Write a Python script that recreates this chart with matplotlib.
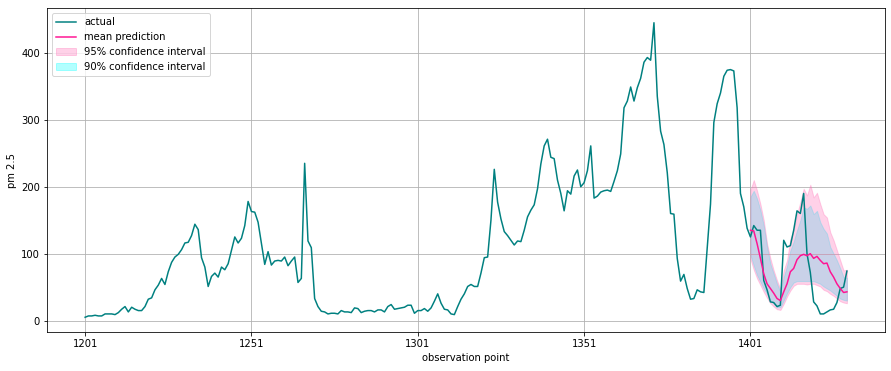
import numpy as np
import matplotlib
matplotlib.use("Agg")
import matplotlib.pyplot as plt

start = 1201
actual = [
    5, 7, 7, 8, 7, 7, 10, 10, 10, 9,
    12, 17, 21, 13, 20, 17, 15, 15, 21, 32,
    34, 46, 53, 63, 54, 73, 87, 95, 99, 106,
    116, 117, 127, 144, 136, 94, 80, 51, 66, 71,
    65, 80, 76, 85, 105, 125, 116, 123, 142, 178,
    163, 162, 147, 115, 84, 103, 83, 89, 90, 89,
    95, 82, 89, 95, 57, 63, 235, 119, 109, 33,
    21, 14, 13, 10, 11, 11, 10, 15, 13, 13,
    12, 19, 18, 12, 14, 15, 15, 13, 16, 16,
    13, 21, 24, 17, 18, 19, 20, 23, 23, 11,
    15, 15, 18, 14, 19, 29, 40, 26, 17, 16,
    10, 9, 21, 32, 40, 51, 54, 51, 51, 71,
    94, 95, 150, 226, 177, 152, 133, 127, 120, 113,
    119, 118, 135, 155, 165, 173, 197, 234, 261, 271,
    244, 242, 210, 190, 164, 194, 189, 216, 225, 200,
    206, 224, 261, 183, 186, 192, 194, 195, 193, 208,
    224, 249, 318, 328, 349, 328, 348, 362, 386, 393,
    389, 445, 335, 283, 263, 221, 160, 159, 93, 59,
    69, 48, 32, 33, 46, 43, 42, 107, 174, 296,
    324, 340, 365, 374, 375, 373, 318, 190, 170, 138,
    125, 142, 135, 135, 60, 46, 28, 27, 21, 23,
    120, 110, 112, 135, 164, 160, 190, 100, 72, 28,
    22, 10, 10, 13, 16, 17, 27, 48, 50, 74,
]
x_actual = np.arange(start, start + len(actual))

pred_start = 1401
mean_pred = [135, 134, 115, 93, 70, 55, 48, 41, 33, 30,
             43, 55, 73, 78, 91, 97, 99, 97, 100, 93,
             96, 90, 85, 86, 73, 65, 55, 48, 42, 43]
upper95 = [195, 210, 194, 174, 150, 115, 93, 75, 60, 47,
           75, 90, 122, 135, 159, 177, 197, 187, 203, 184,
           191, 174, 159, 154, 132, 120, 105, 90, 75, 76]
lower95 = [92, 76, 63, 53, 43, 34, 26, 21, 17, 16,
           25, 36, 45, 52, 55, 55, 55, 54, 55, 55,
           53, 51, 46, 44, 40, 37, 33, 29, 27, 26]
upper90 = [185, 194, 182, 165, 142, 110, 85, 70, 55, 43,
           65, 82, 105, 118, 135, 150, 169, 167, 172, 159,
           164, 147, 137, 130, 110, 100, 90, 78, 65, 64]
lower90 = [98, 82, 68, 58, 48, 40, 31, 25, 20, 20,
           30, 41, 50, 57, 59, 59, 59, 59, 59, 59,
           57, 55, 51, 48, 45, 41, 37, 33, 31, 30]
x_pred = np.arange(pred_start, pred_start + len(mean_pred))

xticks = [1201, 1251, 1301, 1351, 1401]

fig = plt.figure(figsize=(891 / 72, 371 / 72), dpi=72)
ax = fig.add_axes([47 / 891, 1 - 332 / 371, (885 - 47) / 891, (332 - 8) / 371])

ax.plot(x_actual, actual, color="teal", label="actual", zorder=3)
ax.plot(x_pred, mean_pred, color="deeppink", label="mean prediction", zorder=4)
ax.fill_between(x_pred, lower95, upper95, color="hotpink", alpha=0.3,
                label="95% confidence interval", zorder=2)
ax.fill_between(x_pred, lower90, upper90, color="cyan", alpha=0.3,
                label="90% confidence interval", zorder=1.5)

ax.set_xticks(xticks)
ax.set_xlabel("observation point")
ax.set_ylabel("pm 2.5")
ax.grid(True)
ax.legend(loc="upper left")

fig.savefig("out.png", dpi=72)
